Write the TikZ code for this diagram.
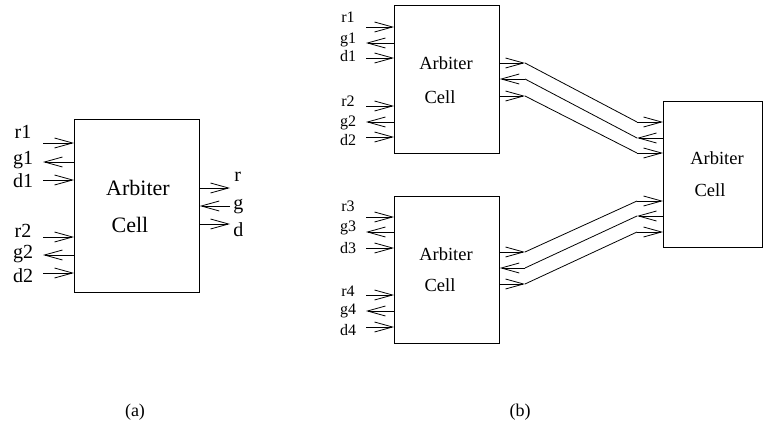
\documentclass[tikz,border=0pt]{standalone}
\usepackage{fontspec}
\setmainfont{Liberation Serif}
\usetikzlibrary{positioning,arrows.meta}

\begin{document}
\begin{tikzpicture}[x=1pt, y=-1pt, line width=0.8pt,
  >={Straight Barb[length=18pt,width=10pt]},
  cell/.style={draw, anchor=north west, inner sep=0pt},
  bigpin/.style={inner sep=0pt, font=\fontsize{20}{20}\selectfont},
  pin/.style={inner sep=0pt, font=\fontsize{16}{16}\selectfont},
  bigword/.style={inner sep=0pt, font=\fontsize{22}{22}\selectfont},
  word/.style={inner sep=0pt, font=\fontsize{18.5}{18.5}\selectfont}]
\useasboundingbox (0,0) rectangle (763,425);

% (a) single cell
\node[cell, minimum width=125pt, minimum height=173pt] (cellA) at (74,119) {};
\node[bigword] (cellA-t1) at (138,188) {Arbiter};
\node[bigword] (cellA-t2) at (130,225) {Cell};
\node[bigpin] (a-lr1) at (23,132) {r1};
\node[bigpin] (a-lg1) at (23,160) {g1};
\node[bigpin] (a-ld1) at (23,181) {d1};
\node[bigpin] (a-lr2) at (23,231) {r2};
\node[bigpin] (a-lg2) at (23,254) {g2};
\node[bigpin] (a-ld2) at (23,276) {d2};
\node[bigpin, anchor=west] (a-lr) at (234,177) {r};
\node[bigpin, anchor=west] (a-lg) at (233,207) {g};
\node[bigpin, anchor=west] (a-ld) at (233,230) {d};
\coordinate (a-r1) at (43,143);
\coordinate (a-g1) at (43,162);
\coordinate (a-d1) at (43,180);
\coordinate (a-r2) at (43,237);
\coordinate (a-g2) at (43,255);
\coordinate (a-d2) at (43,273);
\coordinate (a-r) at (230,188);
\coordinate (a-g) at (230,206);
\coordinate (a-d) at (230,224);
\draw[->] (a-r1) -- (a-r1 -| cellA.west);
\draw[->] (a-g1 -| cellA.west) -- (a-g1);
\draw[->] (a-d1) -- (a-d1 -| cellA.west);
\draw[->] (a-r2) -- (a-r2 -| cellA.west);
\draw[->] (a-g2 -| cellA.west) -- (a-g2);
\draw[->] (a-d2) -- (a-d2 -| cellA.west);
\draw[->] (a-r -| cellA.east) -- (a-r);
\draw[->] (a-g) -- (a-g -| cellA.east);
\draw[->] (a-d -| cellA.east) -- (a-d);
\node[font=\fontsize{18}{18}\selectfont] (capA) at (135,412) {(a)};

% (b) tree of three cells
\node[cell, minimum width=105pt, minimum height=148pt] (cellB1) at (394,5) {};
\node[cell, minimum width=105pt, minimum height=147pt] (cellB2) at (394,196) {};
\node[cell, minimum width=99pt, minimum height=146pt] (cellB3) at (663,101) {};
\node[word] (cellB1-t1) at (446,63) {Arbiter};
\node[word] (cellB1-t2) at (440,97) {Cell};
\node[word] (cellB2-t1) at (446,254) {Arbiter};
\node[word] (cellB2-t2) at (440,285) {Cell};
\node[word] (cellB3-t1) at (717,158) {Arbiter};
\node[word] (cellB3-t2) at (710,190) {Cell};

\node[pin] (b-lr1) at (348,17) {r1};
\node[pin] (b-lg1) at (348,40) {g1};
\node[pin] (b-ld1) at (348,56) {d1};
\node[pin] (b-lr2) at (348,101) {r2};
\node[pin] (b-lg2) at (348,123) {g2};
\node[pin] (b-ld2) at (348,140) {d2};
\node[pin] (b-lr3) at (348,206) {r3};
\node[pin] (b-lg3) at (348,228) {g3};
\node[pin] (b-ld3) at (348,248) {d3};
\node[pin] (b-lr4) at (348,291) {r4};
\node[pin] (b-lg4) at (348,311) {g4};
\node[pin] (b-ld4) at (348,330) {d4};

\coordinate (b-r1) at (366,27);
\coordinate (b-g1) at (366,43);
\coordinate (b-d1) at (366,58);
\coordinate (b-r2) at (366,106);
\coordinate (b-g2) at (366,122);
\coordinate (b-d2) at (366,137);
\coordinate (b-r3) at (366,217);
\coordinate (b-g3) at (366,232);
\coordinate (b-d3) at (366,248);
\coordinate (b-r4) at (366,295);
\coordinate (b-g4) at (366,311);
\coordinate (b-d4) at (366,327);
\draw[->] (b-r1) -- (b-r1 -| cellB1.west);
\draw[->] (b-g1 -| cellB1.west) -- (b-g1);
\draw[->] (b-d1) -- (b-d1 -| cellB1.west);
\draw[->] (b-r2) -- (b-r2 -| cellB1.west);
\draw[->] (b-g2 -| cellB1.west) -- (b-g2);
\draw[->] (b-d2) -- (b-d2 -| cellB1.west);
\draw[->] (b-r3) -- (b-r3 -| cellB2.west);
\draw[->] (b-g3 -| cellB2.west) -- (b-g3);
\draw[->] (b-d3) -- (b-d3 -| cellB2.west);
\draw[->] (b-r4) -- (b-r4 -| cellB2.west);
\draw[->] (b-g4 -| cellB2.west) -- (b-g4);
\draw[->] (b-d4) -- (b-d4 -| cellB2.west);

% bends between the cells
\coordinate (up-r) at (525,63);
\coordinate (up-g) at (525,79);
\coordinate (up-d) at (525,96);
\coordinate (upin-r) at (637,122);
\coordinate (upin-g) at (637,138);
\coordinate (upin-d) at (637,153);
\coordinate (lo-r) at (525,252);
\coordinate (lo-g) at (525,268);
\coordinate (lo-d) at (525,284);
\coordinate (loin-r) at (637,201);
\coordinate (loin-g) at (637,216);
\coordinate (loin-d) at (637,232);

\draw[->] (up-r -| cellB1.east) -- (up-r);
\draw (up-r) -- (upin-r);
\draw[->] (upin-r) -- (upin-r -| cellB3.west);
\draw[->] (up-g) -- (up-g -| cellB1.east);
\draw (up-g) -- (upin-g);
\draw[->] (upin-g -| cellB3.west) -- (upin-g);
\draw[->] (up-d -| cellB1.east) -- (up-d);
\draw (up-d) -- (upin-d);
\draw[->] (upin-d) -- (upin-d -| cellB3.west);

\draw[->] (lo-r -| cellB2.east) -- (lo-r);
\draw (lo-r) -- (loin-r);
\draw[->] (loin-r) -- (loin-r -| cellB3.west);
\draw[->] (lo-g) -- (lo-g -| cellB2.east);
\draw (lo-g) -- (loin-g);
\draw[->] (loin-g -| cellB3.west) -- (loin-g);
\draw[->] (lo-d -| cellB2.east) -- (lo-d);
\draw (lo-d) -- (loin-d);
\draw[->] (loin-d) -- (loin-d -| cellB3.west);

\node[font=\fontsize{18}{18}\selectfont] (capB) at (520,412) {(b)};
\end{tikzpicture}
\end{document}
